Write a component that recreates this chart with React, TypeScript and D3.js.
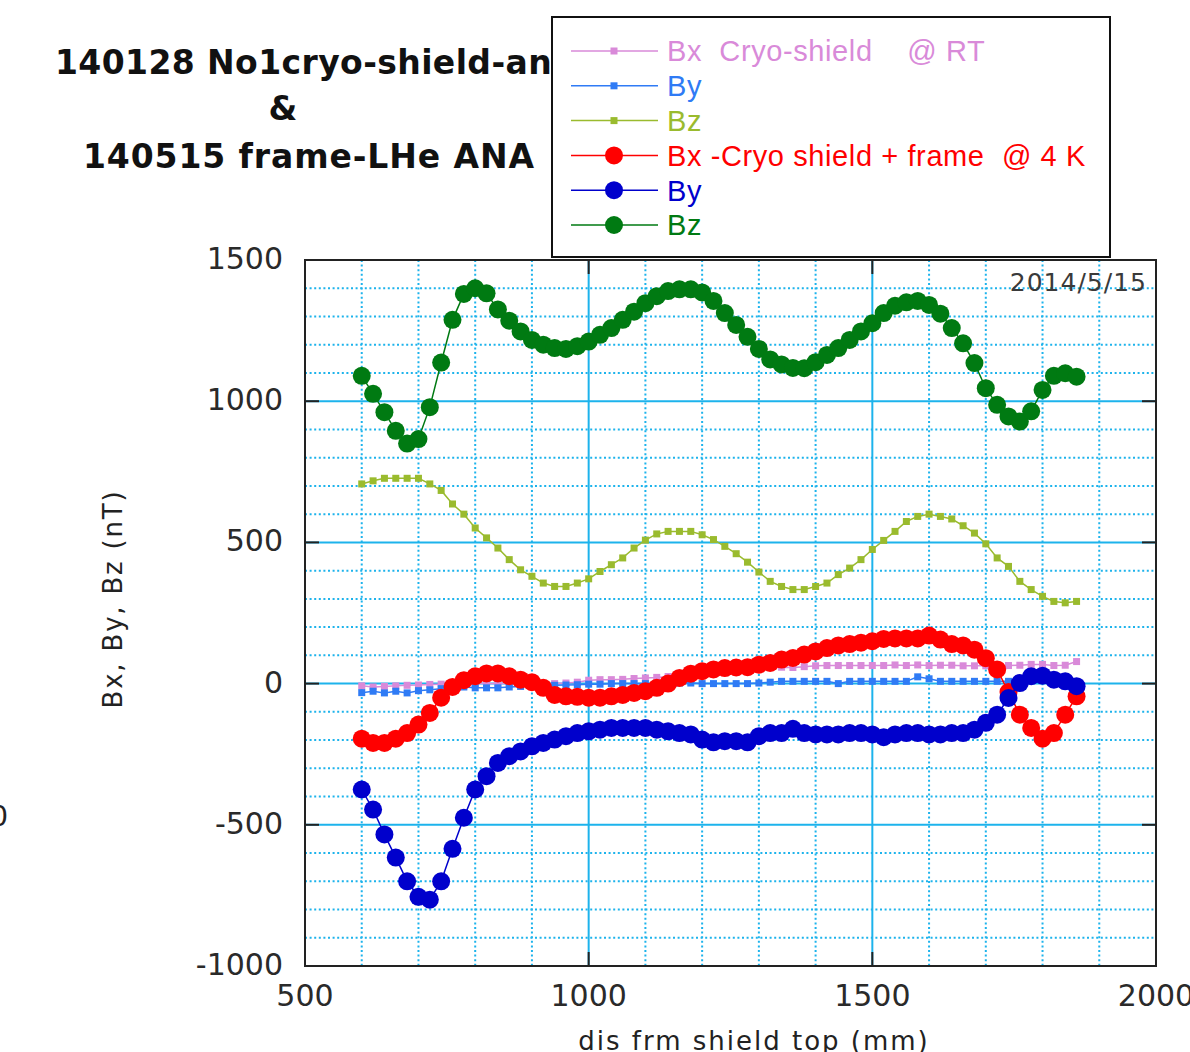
import * as d3 from 'd3';
import { useEffect, useRef } from 'react';

const width = 1190;
const height = 1052;

// distance from shield top (mm), one reading every 20 mm
const positions = d3.range(600, 1861, 20);

// room temperature, cryo-shield only
const bxRT = [
  -8, -12, -10, -8, -6, -5, -3, -2, -1, 0,
  0, 0, 0, 0, 0, 0, 0, 0, 2, 5,
  12, 14, 14, 15, 18, 20, 22, 25, 28, 32,
  36, 40, 45, 48, 52, 55, 57, 58, 57, 60,
  63, 64, 64, 64, 64, 64, 64, 66, 64, 66,
  64, 65, 65, 63, 63, 63, 64, 64, 65, 68,
  68, 64, 65, 78,
];
const byRT = [
  -32, -27, -33, -27, -33, -25, -22, -18, -15, -12,
  -15, -15, -15, -12, -10, -8, -8, -6, -5, -4,
  -2, -2, 0, 0, 0, 0, 0, 0, 2, 2,
  0, 0, 0, 0, 0, 2, 5, 8, 8, 8,
  8, 8, 0, 8, 8, 8, 8, 8, 8, 24,
  17, 8, 8, 8, 8, 8, 8, 8, 10, 12,
  12, 10, 8, 5,
];
const bzRT = [
  707, 718, 727, 727, 727, 727, 707, 684, 636, 600,
  551, 516, 480, 439, 403, 380, 356, 344, 344, 356,
  371, 397, 421, 445, 480, 508, 530, 539, 539, 539,
  527, 510, 486, 460, 430, 395, 362, 344, 333, 333,
  344, 356, 386, 409, 439, 475, 507, 539, 574, 592,
  600, 592, 583, 559, 533, 495, 445, 415, 362, 333,
  309, 291, 286, 291,
];

// 4 K, cryo-shield + frame
const bx4K = [
  -195, -210, -210, -195, -175, -145, -104, -50, -12, 12,
  26, 36, 36, 26, 14, 5, -15, -40, -45, -47,
  -50, -50, -45, -40, -33, -27, -15, 0, 20, 35,
  44, 50, 55, 57, 58, 67, 73, 85, 91, 103,
  114, 126, 135, 140, 145, 150, 158, 160, 160, 160,
  170, 156, 140, 135, 120, 90, 50, -30, -110, -157,
  -195, -175, -110, -45,
];
const by4K = [
  -375, -446, -534, -616, -700, -755, -765, -700, -585, -475,
  -375, -328, -281, -257, -240, -222, -210, -198, -186, -175,
  -169, -163, -157, -157, -157, -157, -163, -169, -175, -180,
  -198, -208, -204, -204, -208, -186, -175, -175, -160, -175,
  -180, -180, -180, -175, -175, -180, -190, -180, -175, -175,
  -180, -180, -175, -175, -163, -139, -110, -51, 2, 26,
  28, 14, 8, -9,
];
const bz4K = [
  1090, 1026, 961, 895, 850, 866, 979, 1137, 1288, 1380,
  1400, 1382, 1325, 1285, 1247, 1217, 1200, 1188, 1185, 1195,
  1211, 1235, 1259, 1288, 1317, 1347, 1372, 1390, 1396, 1396,
  1385, 1355, 1312, 1270, 1228, 1185, 1148, 1130, 1118, 1117,
  1138, 1164, 1188, 1217, 1247, 1276, 1312, 1338, 1350, 1355,
  1341, 1310, 1259, 1205, 1135, 1046, 987, 946, 928, 964,
  1040, 1090, 1099, 1087,
];

const legendLabels = [
  'Bx  Cryo-shield    @ RT',
  'By',
  'Bz',
  'Bx -Cryo shield + frame  @ 4 K',
  'By',
  'Bz',
];
const seriesColors = ['#d98ad9', '#2f7bf5', '#9abb2e', '#ff0000', '#0000cc', '#007a12'];
const seriesValues = [bxRT, byRT, bzRT, bx4K, by4K, bz4K];
const seriesBig = [false, false, false, true, true, true];

const titleLines = ['140128 No1cryo-shield-and', '&', '140515 frame-LHe ANA'];
const xTicks = [500, 1000, 1500, 2000];
const yTicks = [-1000, -500, 0, 500, 1000, 1500];

const gridColor = '#1db3ec';
const axisFont = '"DejaVu Sans", sans-serif';

const App = () => {
  const svgRef = useRef(null);

  useEffect(() => {
    const svg = d3.select(svgRef.current);
    svg.selectAll('*').remove();

    const x = d3.scaleLinear().domain([500, 2000]).range([305, 1156]);
    const y = d3.scaleLinear().domain([-1000, 1500]).range([966, 260]);

    // title (partly hidden by the legend box)
    const title = svg.append('g').style('font-family', axisFont).style('font-weight', 'bold')
      .style('font-size', '33px').attr('fill', '#111');
    title.append('text').attr('x', 55).attr('y', 74).style('letter-spacing', '0.4px').text(titleLines[0]);
    title.append('text').attr('x', 283).attr('y', 120).attr('text-anchor', 'middle').text(titleLines[1]);
    title.append('text').attr('x', 83).attr('y', 168).style('letter-spacing', '0.9px').text(titleLines[2]);

    // stray label of a neighbouring chart, cut by the page edge
    svg.append('text').attr('x', 8).attr('y', 826).attr('text-anchor', 'end')
      .style('font-family', axisFont).style('font-size', '28px').attr('fill', '#222').text('0');

    // grid
    const grid = svg.append('g');
    const minorX = d3.range(600, 2000, 100).filter((d) => d % 500 !== 0);
    const minorY = d3.range(-900, 1500, 100).filter((d) => d % 500 !== 0);
    grid.selectAll('line.mx').data(minorX).enter().append('line')
      .attr('x1', (d) => x(d)).attr('x2', (d) => x(d)).attr('y1', y(1500)).attr('y2', y(-1000))
      .attr('stroke', gridColor).attr('stroke-width', 2).attr('stroke-dasharray', '2,2.6');
    grid.selectAll('line.my').data(minorY).enter().append('line')
      .attr('y1', (d) => y(d)).attr('y2', (d) => y(d)).attr('x1', x(500)).attr('x2', x(2000))
      .attr('stroke', gridColor).attr('stroke-width', 2).attr('stroke-dasharray', '2,2.6');
    grid.selectAll('line.Mx').data([1000, 1500]).enter().append('line')
      .attr('x1', (d) => x(d)).attr('x2', (d) => x(d)).attr('y1', y(1500)).attr('y2', y(-1000))
      .attr('stroke', gridColor).attr('stroke-width', 2);
    grid.selectAll('line.My').data([-500, 0, 500, 1000]).enter().append('line')
      .attr('y1', (d) => y(d)).attr('y2', (d) => y(d)).attr('x1', x(500)).attr('x2', x(2000))
      .attr('stroke', gridColor).attr('stroke-width', 2);

    // major ticks pointing inside on all four sides
    const tl = 14;
    [1000, 1500].forEach((d) => {
      grid.append('line').attr('x1', x(d)).attr('x2', x(d)).attr('y1', y(1500)).attr('y2', y(1500) + tl)
        .attr('stroke', '#222').attr('stroke-width', 2);
      grid.append('line').attr('x1', x(d)).attr('x2', x(d)).attr('y1', y(-1000)).attr('y2', y(-1000) - tl)
        .attr('stroke', '#222').attr('stroke-width', 2);
    });
    [-500, 0, 500, 1000].forEach((d) => {
      grid.append('line').attr('y1', y(d)).attr('y2', y(d)).attr('x1', x(500)).attr('x2', x(500) + tl)
        .attr('stroke', '#222').attr('stroke-width', 2);
      grid.append('line').attr('y1', y(d)).attr('y2', y(d)).attr('x1', x(2000)).attr('x2', x(2000) - tl)
        .attr('stroke', '#222').attr('stroke-width', 2);
    });

    svg.append('rect').attr('x', x(500)).attr('y', y(1500))
      .attr('width', x(2000) - x(500)).attr('height', y(-1000) - y(1500))
      .attr('fill', 'none').attr('stroke', '#222').attr('stroke-width', 2);

    // tick labels
    const labels = svg.append('g').style('font-family', axisFont).style('font-size', '30px').attr('fill', '#2a2a2a');
    labels.selectAll('text.yt').data(yTicks).enter().append('text')
      .attr('x', 283).attr('y', (d) => y(d)).attr('dy', '0.3em').attr('text-anchor', 'end')
      .text((d) => d);
    labels.selectAll('text.xt').data(xTicks).enter().append('text')
      .attr('x', (d) => x(d)).attr('y', 1006).attr('text-anchor', 'middle')
      .text((d) => d);

    svg.append('text').attr('transform', 'translate(122,599) rotate(-90)').attr('text-anchor', 'middle')
      .style('font-family', axisFont).style('font-size', '26px').style('letter-spacing', '1.8px')
      .attr('fill', '#222').text('Bx, By, Bz (nT)');
    svg.append('text').attr('x', 754).attr('y', 1050).attr('text-anchor', 'middle')
      .style('font-family', axisFont).style('font-size', '26px').style('letter-spacing', '2px')
      .attr('fill', '#222').text('dis frm shield top (mm)');

    svg.append('text').attr('x', 1147).attr('y', 291).attr('text-anchor', 'end')
      .style('font-family', axisFont).style('font-size', '25px').style('letter-spacing', '1px')
      .attr('fill', '#3a3a3a').text('2014/5/15');

    // series
    const line = d3.line().x((d) => x(d[0])).y((d) => y(d[1]));
    seriesValues.forEach((vals, k) => {
      const pts = positions.map((p, i) => [p, vals[i]]);
      const g = svg.append('g');
      g.append('path').datum(pts).attr('d', line).attr('fill', 'none')
        .attr('stroke', seriesColors[k]).attr('stroke-width', 1.5);
      if (seriesBig[k]) {
        g.selectAll('circle').data(pts).enter().append('circle')
          .attr('cx', (d) => x(d[0])).attr('cy', (d) => y(d[1])).attr('r', 9)
          .attr('fill', seriesColors[k]);
      } else {
        g.selectAll('rect').data(pts).enter().append('rect')
          .attr('x', (d) => x(d[0]) - 3.5).attr('y', (d) => y(d[1]) - 3.5)
          .attr('width', 7).attr('height', 7).attr('fill', seriesColors[k]);
      }
    });

    // legend
    const lg = svg.append('g');
    lg.append('rect').attr('x', 552).attr('y', 17).attr('width', 558).attr('height', 240)
      .attr('fill', '#fff').attr('stroke', '#111').attr('stroke-width', 2);
    const rowY = d3.range(6).map((i) => 51 + i * 34.8);
    legendLabels.forEach((lab, k) => {
      const cy = rowY[k];
      lg.append('line').attr('x1', 571).attr('x2', 658).attr('y1', cy).attr('y2', cy)
        .attr('stroke', seriesColors[k]).attr('stroke-width', 1.5);
      if (seriesBig[k]) {
        lg.append('circle').attr('cx', 614).attr('cy', cy).attr('r', 9).attr('fill', seriesColors[k]);
      } else {
        lg.append('rect').attr('x', 610.5).attr('y', cy - 3.5).attr('width', 7).attr('height', 7)
          .attr('fill', seriesColors[k]);
      }
      lg.append('text').attr('x', 667).attr('y', cy).attr('dy', '0.36em')
        .style('font-family', '"Liberation Sans", sans-serif').style('font-size', '29px')
        .style('letter-spacing', '0.6px')
        .style('white-space', 'pre').attr('fill', seriesColors[k]).text(lab);
    });
  }, []);

  return (
    <svg
      ref={svgRef}
      width={width}
      height={height}
      style={{ position: 'absolute', left: 0, top: 0, background: '#fff', overflow: 'hidden' }}
    ></svg>
  );
};

export default App;
